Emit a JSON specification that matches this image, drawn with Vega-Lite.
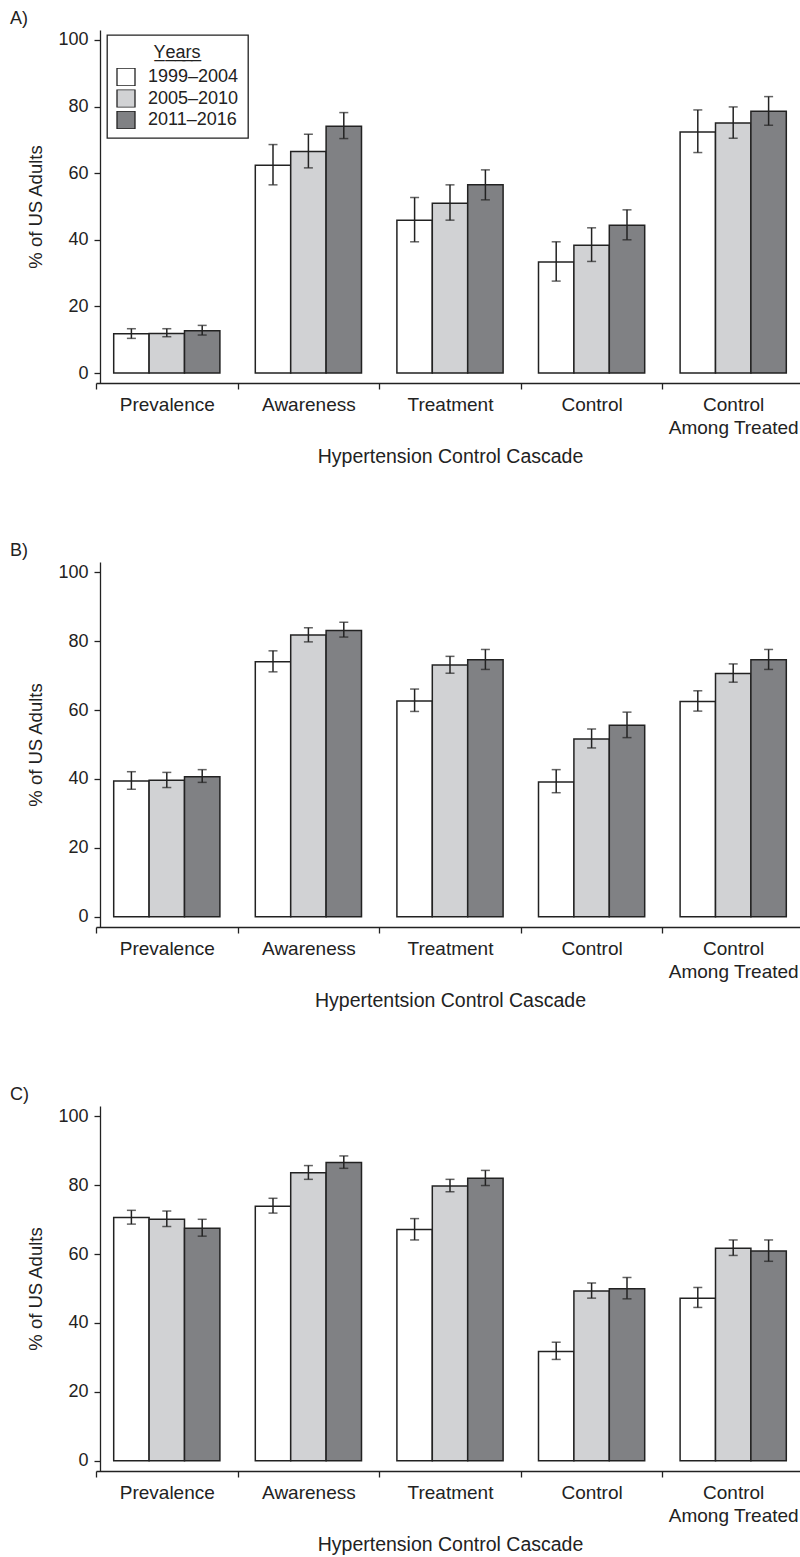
{
  "$schema": "https://vega.github.io/schema/vega-lite/v6.json",
  "background": "white",
  "padding": {"left": 10, "top": 10, "right": 0, "bottom": 5},
  "config": {
    "font": "Liberation Sans",
    "view": {"stroke": null},
    "axis": {"labelFont": "Liberation Sans", "titleFont": "Liberation Sans", "labelFontSize": 18, "titleFontSize": 18.5, "titleFontWeight": "normal", "labelColor": "#222", "titleColor": "#222", "domainColor": "#222", "tickColor": "#222", "grid": false, "domainWidth": 1.3, "tickWidth": 1.3, "tickSize": 6},
    "axisX": {"labelFontSize": 19, "titleFontSize": 19.5},
    "title": {"fontSize": 18, "fontWeight": "normal", "anchor": "start", "frame": "group", "color": "#222", "font": "Liberation Sans"},
    "legend": {"strokeWidth": 1.3},
    "concat": {"spacing": 76}
  },
  "datasets": {
    "d": [
      {"panel": "A", "measure": "Prevalence", "years": "1999–2004", "value": 11.8, "lo": 10.4, "hi": 13.3},
      {"panel": "A", "measure": "Prevalence", "years": "2005–2010", "value": 11.9, "lo": 10.9, "hi": 13.3},
      {"panel": "A", "measure": "Prevalence", "years": "2011–2016", "value": 12.7, "lo": 11.4, "hi": 14.3},
      {"panel": "A", "measure": "Awareness", "years": "1999–2004", "value": 62.4, "lo": 56.5, "hi": 68.6},
      {"panel": "A", "measure": "Awareness", "years": "2005–2010", "value": 66.5, "lo": 61.6, "hi": 71.7},
      {"panel": "A", "measure": "Awareness", "years": "2011–2016", "value": 74.1, "lo": 70.4, "hi": 78.2},
      {"panel": "A", "measure": "Treatment", "years": "1999–2004", "value": 45.9, "lo": 39.4, "hi": 52.7},
      {"panel": "A", "measure": "Treatment", "years": "2005–2010", "value": 51.0, "lo": 45.9, "hi": 56.5},
      {"panel": "A", "measure": "Treatment", "years": "2011–2016", "value": 56.5, "lo": 52.0, "hi": 61.0},
      {"panel": "A", "measure": "Control", "years": "1999–2004", "value": 33.3, "lo": 27.6, "hi": 39.4},
      {"panel": "A", "measure": "Control", "years": "2005–2010", "value": 38.4, "lo": 33.5, "hi": 43.6},
      {"panel": "A", "measure": "Control", "years": "2011–2016", "value": 44.4, "lo": 40.0, "hi": 49.0},
      {"panel": "A", "measure": "Control Among Treated", "years": "1999–2004", "value": 72.4, "lo": 66.2, "hi": 79.0},
      {"panel": "A", "measure": "Control Among Treated", "years": "2005–2010", "value": 75.1, "lo": 70.5, "hi": 79.9},
      {"panel": "A", "measure": "Control Among Treated", "years": "2011–2016", "value": 78.6, "lo": 74.4, "hi": 83.0},
      {"panel": "B", "measure": "Prevalence", "years": "1999–2004", "value": 39.4, "lo": 37.0, "hi": 42.1},
      {"panel": "B", "measure": "Prevalence", "years": "2005–2010", "value": 39.6, "lo": 37.5, "hi": 41.9},
      {"panel": "B", "measure": "Prevalence", "years": "2011–2016", "value": 40.6, "lo": 39.0, "hi": 42.7},
      {"panel": "B", "measure": "Awareness", "years": "1999–2004", "value": 74.0, "lo": 71.1, "hi": 77.2},
      {"panel": "B", "measure": "Awareness", "years": "2005–2010", "value": 81.8, "lo": 79.8, "hi": 83.9},
      {"panel": "B", "measure": "Awareness", "years": "2011–2016", "value": 83.1, "lo": 81.2, "hi": 85.5},
      {"panel": "B", "measure": "Treatment", "years": "1999–2004", "value": 62.6, "lo": 59.6, "hi": 66.1},
      {"panel": "B", "measure": "Treatment", "years": "2005–2010", "value": 73.1, "lo": 70.7, "hi": 75.6},
      {"panel": "B", "measure": "Treatment", "years": "2011–2016", "value": 74.6, "lo": 71.8, "hi": 77.6},
      {"panel": "B", "measure": "Control", "years": "1999–2004", "value": 39.1, "lo": 36.0, "hi": 42.7},
      {"panel": "B", "measure": "Control", "years": "2005–2010", "value": 51.6, "lo": 49.0, "hi": 54.5},
      {"panel": "B", "measure": "Control", "years": "2011–2016", "value": 55.6, "lo": 52.0, "hi": 59.4},
      {"panel": "B", "measure": "Control Among Treated", "years": "1999–2004", "value": 62.5, "lo": 59.7, "hi": 65.6},
      {"panel": "B", "measure": "Control Among Treated", "years": "2005–2010", "value": 70.6, "lo": 68.1, "hi": 73.4},
      {"panel": "B", "measure": "Control Among Treated", "years": "2011–2016", "value": 74.6, "lo": 71.8, "hi": 77.6},
      {"panel": "C", "measure": "Prevalence", "years": "1999–2004", "value": 70.6, "lo": 68.7, "hi": 72.7},
      {"panel": "C", "measure": "Prevalence", "years": "2005–2010", "value": 70.1, "lo": 68.0, "hi": 72.5},
      {"panel": "C", "measure": "Prevalence", "years": "2011–2016", "value": 67.5, "lo": 65.2, "hi": 70.1},
      {"panel": "C", "measure": "Awareness", "years": "1999–2004", "value": 73.9, "lo": 71.9, "hi": 76.2},
      {"panel": "C", "measure": "Awareness", "years": "2005–2010", "value": 83.6, "lo": 81.7, "hi": 85.7},
      {"panel": "C", "measure": "Awareness", "years": "2011–2016", "value": 86.6, "lo": 84.9, "hi": 88.5},
      {"panel": "C", "measure": "Treatment", "years": "1999–2004", "value": 67.1, "lo": 64.1, "hi": 70.3},
      {"panel": "C", "measure": "Treatment", "years": "2005–2010", "value": 79.8, "lo": 78.1, "hi": 81.7},
      {"panel": "C", "measure": "Treatment", "years": "2011–2016", "value": 82.0, "lo": 79.9, "hi": 84.3},
      {"panel": "C", "measure": "Control", "years": "1999–2004", "value": 31.7, "lo": 29.4, "hi": 34.4},
      {"panel": "C", "measure": "Control", "years": "2005–2010", "value": 49.3, "lo": 47.2, "hi": 51.6},
      {"panel": "C", "measure": "Control", "years": "2011–2016", "value": 49.9, "lo": 47.0, "hi": 53.2},
      {"panel": "C", "measure": "Control Among Treated", "years": "1999–2004", "value": 47.2, "lo": 44.5, "hi": 50.3},
      {"panel": "C", "measure": "Control Among Treated", "years": "2005–2010", "value": 61.7, "lo": 59.6, "hi": 64.1},
      {"panel": "C", "measure": "Control Among Treated", "years": "2011–2016", "value": 60.9, "lo": 57.9, "hi": 64.1}
    ]
  },
  "resolve": {"scale": {"fill": "independent"}, "legend": {"fill": "independent"}},
  "vconcat": [
    {
      "title": {"text": "A)", "dx": -90, "offset": -12, "baseline": "alphabetic"},
      "width": 700, "height": 353,
      "data": {"name": "d"},
      "transform": [{"filter": "datum.panel == 'A'"}],
      "encoding": {
        "x": {"field": "measure", "type": "nominal", "sort": ["Prevalence", "Awareness", "Treatment", "Control", "Control Among Treated"], "scale": {"range": [-4, 704], "paddingInner": 0, "paddingOuter": 0}, "axis": {"title": "Hypertension Control Cascade", "labelAngle": 0, "tickBand": "extent", "labelExpr": "datum.value == 'Control Among Treated' ? ['Control', 'Among Treated'] : datum.value", "labelPadding": 6, "titlePadding": 10, "labelLineHeight": 23}},
        "xOffset": {"field": "years", "type": "nominal", "scale": {"paddingInner": 0, "paddingOuter": 0.5}}
      },
      "layer": [
        {"mark": {"type": "bar", "stroke": "#222", "strokeWidth": 1.5},
         "encoding": {
           "y": {"field": "value", "type": "quantitative", "title": "% of US Adults", "scale": {"domain": [-3, 103], "nice": false, "zero": false}, "axis": {"values": [0, 20, 40, 60, 80, 100], "labelPadding": 6, "titlePadding": 12}},
           "y2": {"datum": 0},
           "fill": {"field": "years", "type": "nominal", "scale": {"domain": ["1999–2004", "2005–2010", "2011–2016"], "range": ["#ffffff", "#d1d2d4", "#808184"]},
             "legend": {"orient": "none", "legendX": 7, "legendY": 5, "title": "Y̲e̲a̲r̲s̲", "titleFontSize": 18, "titleFontWeight": "normal", "titleFont": "Liberation Sans", "titleAnchor": "middle", "titleAlign": "center", "titlePadding": 6, "labelFontSize": 18, "labelFont": "Liberation Sans", "labelColor": "#222", "titleColor": "#222", "symbolType": "square", "symbolSize": 324, "symbolStrokeColor": "#222", "symbolStrokeWidth": 1.3, "labelOffset": 12, "rowPadding": 3.5, "clipHeight": 18, "padding": 9, "strokeColor": "#222", "fillColor": "white"}}
         }},
        {"mark": {"type": "rule", "color": "#222", "strokeWidth": 1.5},
         "encoding": {"y": {"field": "lo", "type": "quantitative", "title": "% of US Adults"}, "y2": {"field": "hi"}}},
        {"mark": {"type": "tick", "color": "#222", "thickness": 1.5, "size": 9, "orient": "horizontal"},
         "encoding": {"y": {"field": "lo", "type": "quantitative", "title": "% of US Adults"}}},
        {"mark": {"type": "tick", "color": "#222", "thickness": 1.5, "size": 9, "orient": "horizontal"},
         "encoding": {"y": {"field": "hi", "type": "quantitative", "title": "% of US Adults"}}}
      ]
    },
    {
      "title": {"text": "B)", "dx": -90, "offset": -12, "baseline": "alphabetic"},
      "width": 700, "height": 365,
      "data": {"name": "d"},
      "transform": [{"filter": "datum.panel == 'B'"}],
      "encoding": {
        "x": {"field": "measure", "type": "nominal", "sort": ["Prevalence", "Awareness", "Treatment", "Control", "Control Among Treated"], "scale": {"range": [-4, 704], "paddingInner": 0, "paddingOuter": 0}, "axis": {"title": "Hypertentsion Control Cascade", "labelAngle": 0, "tickBand": "extent", "labelExpr": "datum.value == 'Control Among Treated' ? ['Control', 'Among Treated'] : datum.value", "labelPadding": 6, "titlePadding": 10, "labelLineHeight": 23}},
        "xOffset": {"field": "years", "type": "nominal", "scale": {"paddingInner": 0, "paddingOuter": 0.5}}
      },
      "layer": [
        {"mark": {"type": "bar", "stroke": "#222", "strokeWidth": 1.5},
         "encoding": {
           "y": {"field": "value", "type": "quantitative", "title": "% of US Adults", "scale": {"domain": [-3, 103], "nice": false, "zero": false}, "axis": {"values": [0, 20, 40, 60, 80, 100], "labelPadding": 6, "titlePadding": 12}},
           "y2": {"datum": 0},
           "fill": {"field": "years", "type": "nominal", "scale": {"domain": ["1999–2004", "2005–2010", "2011–2016"], "range": ["#ffffff", "#d1d2d4", "#808184"]}, "legend": null}
         }},
        {"mark": {"type": "rule", "color": "#222", "strokeWidth": 1.5},
         "encoding": {"y": {"field": "lo", "type": "quantitative", "title": "% of US Adults"}, "y2": {"field": "hi"}}},
        {"mark": {"type": "tick", "color": "#222", "thickness": 1.5, "size": 9, "orient": "horizontal"},
         "encoding": {"y": {"field": "lo", "type": "quantitative", "title": "% of US Adults"}}},
        {"mark": {"type": "tick", "color": "#222", "thickness": 1.5, "size": 9, "orient": "horizontal"},
         "encoding": {"y": {"field": "hi", "type": "quantitative", "title": "% of US Adults"}}}
      ]
    },
    {
      "title": {"text": "C)", "dx": -90, "offset": -12, "baseline": "alphabetic"},
      "width": 700, "height": 365,
      "data": {"name": "d"},
      "transform": [{"filter": "datum.panel == 'C'"}],
      "encoding": {
        "x": {"field": "measure", "type": "nominal", "sort": ["Prevalence", "Awareness", "Treatment", "Control", "Control Among Treated"], "scale": {"range": [-4, 704], "paddingInner": 0, "paddingOuter": 0}, "axis": {"title": "Hypertension Control Cascade", "labelAngle": 0, "tickBand": "extent", "labelExpr": "datum.value == 'Control Among Treated' ? ['Control', 'Among Treated'] : datum.value", "labelPadding": 6, "titlePadding": 10, "labelLineHeight": 23}},
        "xOffset": {"field": "years", "type": "nominal", "scale": {"paddingInner": 0, "paddingOuter": 0.5}}
      },
      "layer": [
        {"mark": {"type": "bar", "stroke": "#222", "strokeWidth": 1.5},
         "encoding": {
           "y": {"field": "value", "type": "quantitative", "title": "% of US Adults", "scale": {"domain": [-3, 103], "nice": false, "zero": false}, "axis": {"values": [0, 20, 40, 60, 80, 100], "labelPadding": 6, "titlePadding": 12}},
           "y2": {"datum": 0},
           "fill": {"field": "years", "type": "nominal", "scale": {"domain": ["1999–2004", "2005–2010", "2011–2016"], "range": ["#ffffff", "#d1d2d4", "#808184"]}, "legend": null}
         }},
        {"mark": {"type": "rule", "color": "#222", "strokeWidth": 1.5},
         "encoding": {"y": {"field": "lo", "type": "quantitative", "title": "% of US Adults"}, "y2": {"field": "hi"}}},
        {"mark": {"type": "tick", "color": "#222", "thickness": 1.5, "size": 9, "orient": "horizontal"},
         "encoding": {"y": {"field": "lo", "type": "quantitative", "title": "% of US Adults"}}},
        {"mark": {"type": "tick", "color": "#222", "thickness": 1.5, "size": 9, "orient": "horizontal"},
         "encoding": {"y": {"field": "hi", "type": "quantitative", "title": "% of US Adults"}}}
      ]
    }
  ]
}
